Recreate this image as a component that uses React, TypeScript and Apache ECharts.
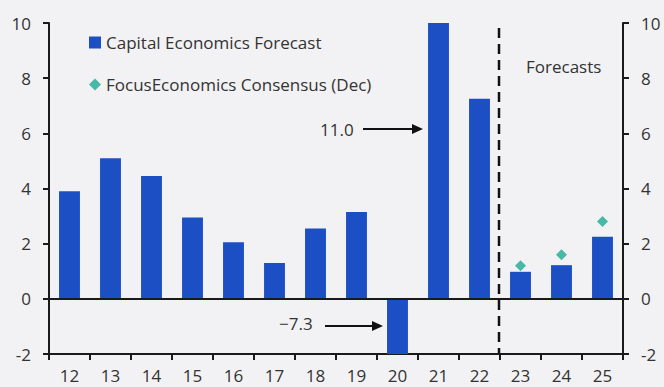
import React, { useEffect, useRef } from "react";
import * as echarts from "echarts";

const categories = ["12", "13", "14", "15", "16", "17", "18", "19", "20", "21", "22", "23", "24", "25"];
const capitalEconomics = [3.9, 5.1, 4.45, 2.95, 2.05, 1.3, 2.55, 3.15, -7.3, 11.0, 7.25, 0.98, 1.22, 2.25];
const focusConsensus = [null, null, null, null, null, null, null, null, null, null, null, 1.2, 1.6, 2.8];
const yTicks = { min: -2, max: 10, interval: 2 };

const FONT = "'Open Sans', 'Noto Sans', sans-serif";
const TEXT = "#333333";
const BLUE = "#1c4fc4";
const TEAL = "#1aaa94";
const FS = 17;

export default function App() {
  const ref = useRef<HTMLDivElement>(null);
  useEffect(() => {
    if (!ref.current) return;
    const chart = echarts.init(ref.current, null, { renderer: "svg" });
    const axisLine = { show: true, onZero: false, lineStyle: { color: "#1a1a1a", width: 2 } };
    const yAxisBase = {
      type: "value",
      min: yTicks.min,
      max: yTicks.max,
      interval: yTicks.interval,
      axisLine,
      axisTick: { show: true, length: 6, lineStyle: { color: "#1a1a1a", width: 2 } },
      axisLabel: { color: TEXT, fontSize: FS, fontFamily: FONT, margin: 18 },
      splitLine: { show: false },
    };
    chart.setOption({
      animation: false,
      backgroundColor: "#f2f2f4",
      textStyle: { fontFamily: FONT },
      grid: { left: 49, right: 41, top: 23, bottom: 33, containLabel: false },
      legend: {
        orient: "vertical",
        left: 84,
        top: 29,
        itemWidth: 12,
        itemHeight: 12,
        itemGap: 25,
        textStyle: { color: TEXT, fontSize: FS, fontFamily: FONT },
        data: [
          { name: "Capital Economics Forecast", icon: "rect" },
          { name: "FocusEconomics Consensus (Dec)", icon: "diamond" },
        ],
      },
      xAxis: {
        type: "category",
        data: categories,
        boundaryGap: true,
        axisLine,
        axisTick: { show: true, length: 6, interval: 0, lineStyle: { color: "#1a1a1a", width: 2 } },
        axisLabel: { color: TEXT, fontSize: FS, fontFamily: FONT, margin: 13, interval: 0 },
        splitLine: { show: false },
      },
      yAxis: [
        { ...yAxisBase, position: "left" },
        { ...yAxisBase, position: "right" },
      ],
      series: [
        {
          name: "Capital Economics Forecast",
          type: "bar",
          data: capitalEconomics,
          barWidth: "51%",
          clip: true,
          itemStyle: { color: BLUE },
          markLine: {
            silent: true,
            symbol: "none",
            label: { show: false },
            lineStyle: { color: "#1a1a1a", width: 2, type: "solid" },
            data: [{ yAxis: 0 }],
          },
        },
        {
          name: "FocusEconomics Consensus (Dec)",
          type: "scatter",
          data: focusConsensus,
          symbol: "diamond",
          symbolSize: 11,
          itemStyle: { color: TEAL },
        },
      ],
      graphic: [
        {
          type: "line",
          shape: { x1: 499, y1: 28, x2: 499, y2: 354 },
          style: { stroke: "#111", lineWidth: 2.5, lineDash: [10, 6] },
        },
        {
          type: "text",
          x: 526,
          y: 66,
          style: { text: "Forecasts", fill: TEXT, fontSize: FS, fontFamily: FONT, verticalAlign: "middle" },
        },
        {
          type: "text",
          x: 320,
          y: 129,
          style: { text: "11.0", fill: TEXT, fontSize: FS, fontFamily: FONT, verticalAlign: "middle" },
        },
        {
          type: "line",
          shape: { x1: 363, y1: 129, x2: 414, y2: 129 },
          style: { stroke: "#111", lineWidth: 2 },
        },
        {
          type: "polygon",
          shape: { points: [[412, 124], [423, 129], [412, 134]] },
          style: { fill: "#111" },
        },
        {
          type: "text",
          x: 279,
          y: 323,
          style: { text: "\u22127.3", fill: TEXT, fontSize: FS, fontFamily: FONT, verticalAlign: "middle" },
        },
        {
          type: "line",
          shape: { x1: 325, y1: 326, x2: 374, y2: 326 },
          style: { stroke: "#111", lineWidth: 2 },
        },
        {
          type: "polygon",
          shape: { points: [[372, 321], [383, 326], [372, 331]] },
          style: { fill: "#111" },
        },
      ],
    });
    return () => chart.dispose();
  }, []);
  return (
    <div
      ref={ref}
      style={{ position: "absolute", left: 0, top: 0, width: 664, height: 387 }}
    />
  );
}
